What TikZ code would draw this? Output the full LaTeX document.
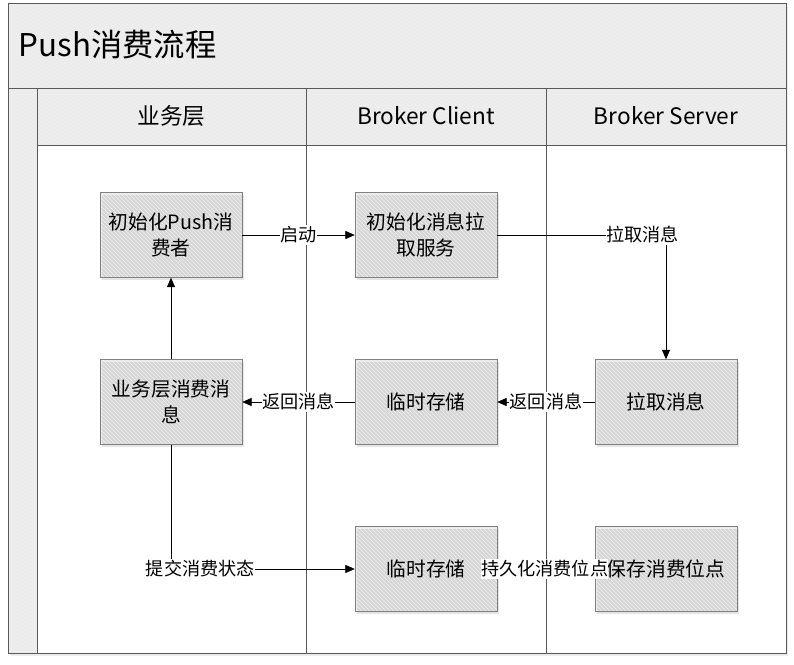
\documentclass[tikz,border=0pt]{standalone}
\usepackage{fontspec}
\setmainfont{Noto Sans CJK SC}
\usetikzlibrary{positioning,shadows,patterns,arrows.meta}
\tikzset{
  hatched/.style={preaction={fill=black!8}, pattern=north west lines, pattern color=black!5},
  lanecell/.style={draw=black!65, hatched},
  stepbox/.style={draw=black!50, hatched, drop shadow={opacity=0.2, shadow xshift=1.5pt, shadow yshift=-1.5pt},
    minimum width=106.5pt, minimum height=63.75pt, align=center, inner sep=2pt,
    font=\fontsize{14.8}{19.5}\selectfont},
  tag/.style={fill=white, inner xsep=0.2pt, inner ysep=1pt, font=\fontsize{13.6}{16}\selectfont},
  flow/.style={-{Triangle[length=7pt,width=6pt]}, black}
}
\begin{document}
\begin{tikzpicture}[x=0.75pt,y=0.75pt,yscale=-1,xscale=1]
    \useasboundingbox (0,0) rectangle (794,665);
    %frame
    \draw [draw=black!65, fill=white, drop shadow={opacity=0.15, shadow xshift=1.5pt, shadow yshift=-2pt}] (8,3) rectangle (786,653);
    \draw [lanecell] (8,3) rectangle (786,88);
    \node [anchor=west, font=\fontsize{23.5}{28}\selectfont] (title) at (14,45) {Push消费流程};
    \draw [lanecell] (8,88) rectangle (37,653);
    %lanes
    \foreach \xa/\xb/\lane in {37/306/业务层, 306/546/Broker Client, 546/786/Broker Server} {
        \draw [draw=black!65] (\xa,145) rectangle (\xb,653);
        \draw [lanecell] (\xa,88) rectangle (\xb,145);
        \node [font=\fontsize{17}{20}\selectfont] (h\xa) at ({(\xa+\xb)/2},116) {\lane};
    }
    %
    %steps
    \node [stepbox] (init) at (171,235) {初始化Push消\\费者};
    \node [stepbox] (pullsvc) at (426,235) {初始化消息拉\\取服务};
    \node [stepbox] (consume) at (171,402) {业务层消费消\\息};
    \node [stepbox] (tmp1) at (426,402) {临时存储};
    \node [stepbox] (pull) at (666,402) {拉取消息};
    \node [stepbox] (tmp2) at (426,569) {临时存储};
    \node [stepbox] (save) at (666,569) {保存消费位点};
    %
    %flows
    \draw [flow] (init) -- node[tag] (l1) {启动} (pullsvc);
    \draw [flow] (pullsvc.east) -| node[tag, pos=0.43] (l2) {拉取消息} (pull.north);
    \draw [flow] (pull) -- node[tag] (l3) {返回消息} (tmp1);
    \draw [flow] (tmp1) -- node[tag] (l4) {返回消息} (consume);
    \draw [flow] (consume) -- (init);
    \draw [flow] (consume.south) |- node[tag, pos=0.58] (l5) {提交消费状态} (tmp2.west);
    \draw [flow] (tmp2) -- node[tag, xshift=-1pt] (l6) {持久化消费位点} (save);
\end{tikzpicture}
\end{document}
